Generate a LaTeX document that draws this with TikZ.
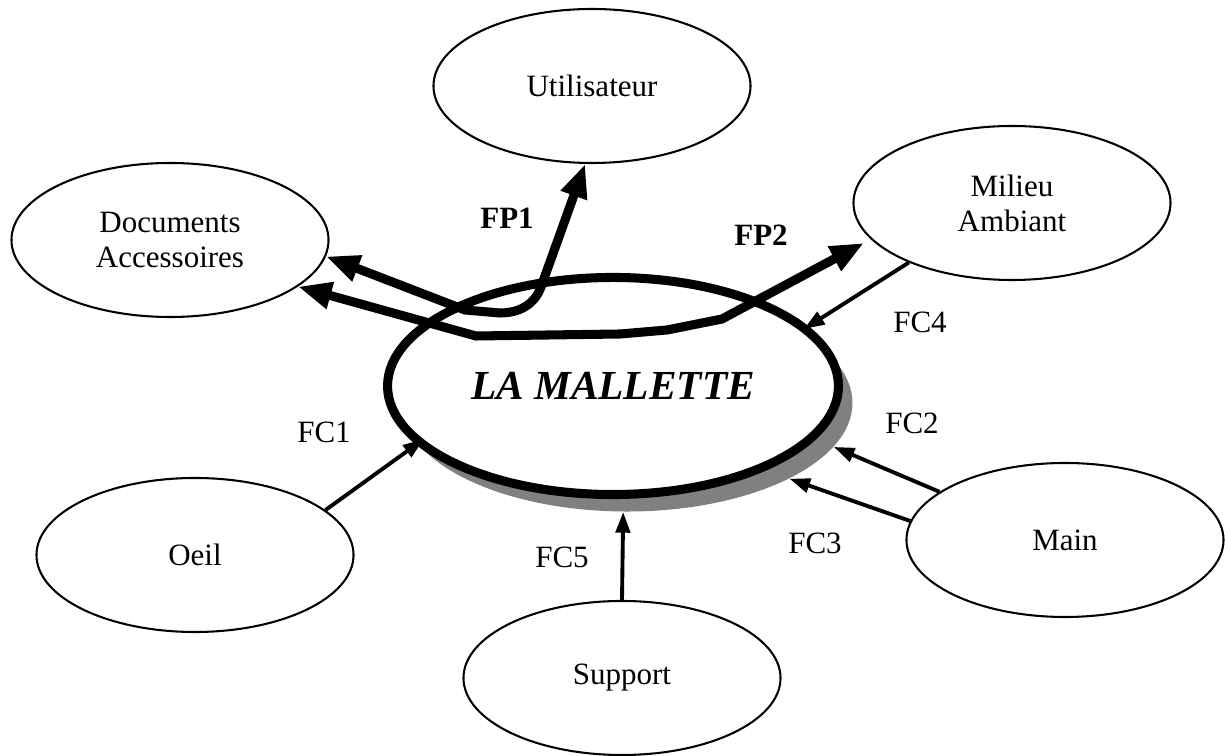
\documentclass[tikz,border=0pt]{standalone}
\usepackage{fontspec}
\setmainfont{Liberation Serif}
\usetikzlibrary{shapes.geometric,arrows.meta}

\begin{document}
\begin{tikzpicture}[x=0.387pt, y=-0.387pt,
every node/.style = {font=\fontsize{12}{13.5}\selectfont, align=center},
acteur/.style = {ellipse, draw, line width=0.8pt,
	minimum width=122.7pt, minimum height=59.6pt, inner sep=0pt},
produit/.style = {ellipse, minimum width=174.5pt, minimum height=84pt, inner sep=0pt},
fp/.style = {line width=3.5pt,
	{Triangle[length=13pt,width=10pt]}-{Triangle[length=13pt,width=10pt]}},
fc/.style = {line width=1.5pt, -{Triangle[length=8pt,width=5.5pt]}}]

\path[use as bounding box, fill=white] (0,0) rectangle (1225,756);

% les acteurs
\node[acteur] (util) at (592,86) {Utilisateur};
\node[acteur] (docs) at (170,240) {Documents\\Accessoires};
\node[acteur] (milieu) at (1012,203) {Milieu\\Ambiant};
\node[acteur] (oeil) at (195,555) {Oeil};
\node[acteur] (support) at (622,678) {Support};
\node[acteur] (main) at (1065,540) {Main};

% le produit et son ombre
\node[produit, fill=black!50] (ombre) at (627,403) {};
\node[produit, draw, fill=white, line width=3.5pt,
	font=\fontsize{16}{18}\selectfont\bfseries\itshape] (mallette) at (613,386) {LA MALLETTE};

% fonctions principales
\coordinate (versmilieu) at (864,243);
\draw[fp] (docs.-6) -- (465,310) -- (500,313) to[out=0,in=-110] (541,287) -- (util.-95);
\draw[fp] (docs.-20) -- (476,336) -- (620,334) -- (667,330) -- (722,319) -- (versmilieu);
\node (fp1) at (507,218) {\textbf{FP1}};
\node (fp2) at (761,235) {\textbf{FP2}};

% fonctions contraintes
\draw[fc, shorten >=-3pt] (oeil.19) -- (ombre.191.8);
\draw[fc] (main.159) -- (ombre.-12);
\draw[fc] (main.173.7) -- (ombre.-25.6);
\draw[fc, shorten >=-2pt] (milieu.210.5) -- (mallette.17.7);
\draw[fc] (support.90) -- (ombre.-92.6);
\node (fc1) at (324,432) {FC1};
\node (fc2) at (912,423) {FC2};
\node (fc3) at (815,543) {FC3};
\node (fc4) at (920,322) {FC4};
\node (fc5) at (562,557) {FC5};
\end{tikzpicture}
\end{document}
